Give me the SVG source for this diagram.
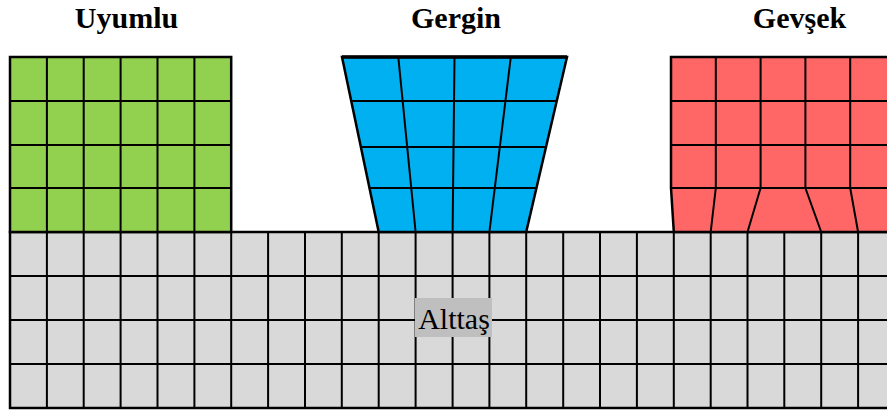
<svg xmlns="http://www.w3.org/2000/svg" width="887" height="410" viewBox="0 0 887 410">
<style>
.grid{stroke:#000;stroke-width:2;fill:none}
.edge{stroke:#000;stroke-width:2.5;stroke-linejoin:miter}
.title{font-family:"Liberation Serif","Times New Roman",serif;font-weight:bold;font-size:30px;text-anchor:middle;fill:#000}
.lbl{font-family:"Liberation Serif","Times New Roman",serif;font-size:30px;text-anchor:middle;fill:#000}
</style>
<rect width="887" height="410" fill="#fff"/>
<g id="substrate">
<rect x="10" y="232" width="885" height="176" fill="#d9d9d9" class="edge"/>
<path class="grid" d="M10,276H895M10,320H895M10,364H895
M46.9,232V408M83.7,232V408M120.6,232V408M157.5,232V408M194.4,232V408M231.2,232V408M268.1,232V408M305,232V408M341.8,232V408M378.7,232V408M415.6,232V408M452.6,232V408M489.4,232V408M526.2,232V408M563.2,232V408M600,232V408M636.9,232V408M673.8,232V408M710.7,232V408M747.5,232V408M784.3,232V408M821.2,232V408M858.1,232V408"/>
<g id="label-alttas">
<rect x="415" y="298" width="77" height="39" fill="#bfbfbf"/>
<text class="lbl" x="454" y="329">Alttaş</text>
</g>
</g>
<g id="block-uyumlu">
<rect x="10" y="57" width="221.2" height="175" fill="#92d050" class="edge"/>
<path class="grid" d="M10,101H231.2M10,145H231.2M10,188H231.2M46.9,57V232M83.7,57V232M120.6,57V232M157.5,57V232M194.4,57V232"/>
<text class="title" x="126.5" y="28">Uyumlu</text>
</g>
<g id="block-gergin">
<polygon points="342,57 567,57 526.2,232 378.7,232" fill="#00b0f0" class="edge"/>
<path class="grid" d="M351.2,101H556.7M360.9,147H546M369.5,188H536.4M398.3,57L415.6,232M454.5,57L452.6,232M510.8,57L489.4,232"/>
<line x1="342" y1="57" x2="567" y2="57" stroke="#000" stroke-width="3.5"/>
<text class="title" x="456" y="28">Gergin</text>
</g>
<g id="block-gevsek">
<polygon points="671,57 895,57 895,232 673.8,232 671,188" fill="#ff6666" class="edge"/>
<path class="grid" d="M671,101H895M671,145H895M671,188H895M715.8,57V188M760.6,57V188M805.4,57V188M850.2,57V188M715.8,188L710.7,232M760.6,188L747.5,232M805.4,188L821.2,232M850.2,188L858.1,232"/>
<text class="title" x="799.5" y="28">Gevşek</text>
</g>
</svg>
